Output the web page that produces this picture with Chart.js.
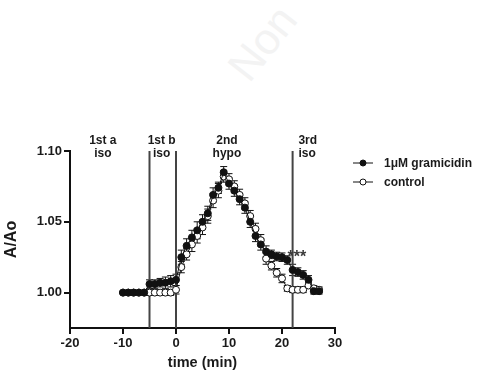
<!DOCTYPE html>
<html lang="en">
<head>
    <meta charset="UTF-8">
    <title>A/Ao vs time</title>
    <style>
        body {
            margin: 0;
            padding: 0;
            background-color: #ffffff;
            font-family: Arial, "Liberation Sans", sans-serif;
        }
        .wrap {
            position: relative;
            width: 479px;
            height: 388px;
        }
        .watermark {
            position: absolute;
            left: 222px;
            top: 18px;
            font-size: 44px;
            color: #f3f3f3;
            transform: rotate(-52deg);
            pointer-events: none;
        }
        canvas {
            position: absolute;
            left: 0;
            top: 0;
        }
    </style>
</head>
<body>
    <div class="wrap">
        <div class="watermark">Non</div>
        <canvas id="chart" width="479" height="388"></canvas>
    </div>

    <script src="https://cdn.jsdelivr.net/npm/chart.js"></script>
    <script>
        // time points (min)
        const times = [-10, -9, -8, -7, -6, -5, -4, -3, -2, -1, 0, 1, 2, 3, 4, 5, 6, 7, 8, 9,
                       10, 11, 12, 13, 14, 15, 16, 17, 18, 19, 20, 21, 22, 23, 24, 25, 26, 27];

        // 1uM gramicidin
        const gramicidin = [1.000, 1.000, 1.000, 1.000, 1.000, 1.006, 1.006, 1.007, 1.007, 1.008,
                            1.009, 1.025, 1.033, 1.039, 1.044, 1.050, 1.056, 1.069, 1.074, 1.085,
                            1.077, 1.072, 1.066, 1.060, 1.050, 1.040, 1.034, 1.029, 1.027, 1.0255,
                            1.025, 1.023, 1.016, 1.0145, 1.0125, 1.009, 1.001, 1.001];
        const gramicidinErr = [0.0005, 0.0005, 0.0005, 0.0005, 0.0005, 0.003, 0.003, 0.003, 0.004, 0.004,
                               0.004, 0.005, 0.005, 0.005, 0.006, 0.005, 0.005, 0.005, 0.004, 0.004,
                               0.004, 0.004, 0.004, 0.004, 0.004, 0.004, 0.004, 0.004, 0.003, 0.003,
                               0.003, 0.003, 0.004, 0.003, 0.003, 0.003, 0.002, 0.002];

        // control
        const control = [1.000, 1.000, 1.000, 1.000, 1.000, 1.000, 1.000, 1.000, 1.000, 1.000,
                         1.002, 1.018, 1.027, 1.034, 1.040, 1.046, 1.054, 1.065, 1.072, 1.082,
                         1.080, 1.075, 1.069, 1.063, 1.054, 1.045, 1.037, 1.024, 1.019, 1.014,
                         1.010, 1.003, 1.002, 1.002, 1.002, 1.005, 1.003, 1.002];
        const controlErr = [0.0005, 0.0005, 0.0005, 0.0005, 0.0005, 0.002, 0.002, 0.002, 0.002, 0.002,
                            0.003, 0.004, 0.004, 0.005, 0.005, 0.005, 0.005, 0.005, 0.005, 0.004,
                            0.004, 0.004, 0.004, 0.004, 0.004, 0.004, 0.004, 0.004, 0.003, 0.003,
                            0.003, 0.002, 0.002, 0.002, 0.002, 0.002, 0.002, 0.002];

        // axis ticks
        const xTicks = [-20, -10, 0, 10, 20, 30];
        const yTicks = [1.00, 1.05, 1.10];

        // solution change lines and their labels
        const changeTimes = [-5, 0, 22];
        const phaseLabels = [
            { x: -13.8, lines: ['1st a', 'iso'], align: 'center' },
            { x: -2.7, lines: ['1st b', 'iso'], align: 'center' },
            { x: 9.6, lines: ['2nd', 'hypo'], align: 'center' },
            { x: 23.1, lines: ['3rd', 'iso'], align: 'left' }
        ];
        const starsAt = { x: 22.8, y: 1.027, text: '***' };

        const seriesNames = ['1\u03bcM gramicidin', 'control'];

        const toPoints = (ys) => times.map((t, i) => ({ x: t, y: ys[i] }));

        const errorBars = {
            id: 'errorBars',
            beforeDatasetsDraw(chart) {
                const { ctx, scales: { x, y } } = chart;
                const errs = [gramicidinErr, controlErr];
                ctx.save();
                ctx.strokeStyle = '#111';
                ctx.lineWidth = 1;
                chart.data.datasets.forEach((ds, di) => {
                    ds.data.forEach((p, i) => {
                        const px = x.getPixelForValue(p.x);
                        const top = y.getPixelForValue(p.y + errs[di][i]);
                        const bot = y.getPixelForValue(p.y - errs[di][i]);
                        ctx.beginPath();
                        ctx.moveTo(px, top);
                        ctx.lineTo(px, bot);
                        ctx.moveTo(px - 3.5, top);
                        ctx.lineTo(px + 3.5, top);
                        ctx.moveTo(px - 3.5, bot);
                        ctx.lineTo(px + 3.5, bot);
                        ctx.stroke();
                    });
                });
                ctx.restore();
            }
        };

        const annotations = {
            id: 'annotations',
            beforeDatasetsDraw(chart) {
                const { ctx, scales: { x, y } } = chart;
                ctx.save();
                // vertical lines where the solution changed
                ctx.strokeStyle = '#444';
                ctx.lineWidth = 2;
                changeTimes.forEach(t => {
                    const px = x.getPixelForValue(t);
                    ctx.beginPath();
                    ctx.moveTo(px, y.getPixelForValue(y.max));
                    ctx.lineTo(px, y.getPixelForValue(y.min));
                    ctx.stroke();
                });
                ctx.restore();
            },
            afterDraw(chart) {
                const { ctx, scales: { x, y } } = chart;
                ctx.save();
                ctx.fillStyle = '#1a1a1a';
                ctx.font = 'bold 12px Arial';
                ctx.textBaseline = 'middle';
                const top = chart.chartArea.top;
                phaseLabels.forEach(lbl => {
                    ctx.textAlign = lbl.align;
                    lbl.lines.forEach((s, i) => {
                        ctx.fillText(s, x.getPixelForValue(lbl.x), top - 10 + i * 13);
                    });
                });
                // significance stars
                ctx.fillStyle = '#3a3a3a';
                ctx.font = 'bold 16px Arial';
                ctx.textAlign = 'center';
                ctx.fillText(starsAt.text, x.getPixelForValue(starsAt.x), y.getPixelForValue(starsAt.y) + 3);

                // legend
                const lx = 353, rows = [163, 182];
                rows.forEach((ry, i) => {
                    ctx.strokeStyle = '#111';
                    ctx.lineWidth = 1;
                    ctx.beginPath();
                    ctx.moveTo(lx, ry);
                    ctx.lineTo(lx + 20, ry);
                    ctx.stroke();
                    ctx.beginPath();
                    ctx.arc(lx + 10, ry, 3, 0, Math.PI * 2);
                    ctx.fillStyle = i === 0 ? '#111' : '#fff';
                    ctx.fill();
                    ctx.stroke();
                    ctx.fillStyle = '#1a1a1a';
                    ctx.font = 'bold 12px Arial';
                    ctx.textAlign = 'left';
                    ctx.fillText(seriesNames[i], 384, ry + 1);
                });
                ctx.restore();
            }
        };

        const ctx = document.getElementById('chart').getContext('2d');
        const chart = new Chart(ctx, {
            type: 'scatter',
            data: {
                datasets: [{
                    label: seriesNames[0],
                    data: toPoints(gramicidin),
                    showLine: true,
                    borderColor: '#111',
                    borderWidth: 1,
                    backgroundColor: '#111',
                    pointRadius: 3.5,
                    pointBorderWidth: 1
                }, {
                    label: seriesNames[1],
                    data: toPoints(control),
                    showLine: true,
                    borderColor: '#111',
                    borderWidth: 1,
                    backgroundColor: '#ffffff',
                    pointBackgroundColor: '#ffffff',
                    pointRadius: 3.5,
                    pointBorderWidth: 1
                }]
            },
            options: {
                responsive: false,
                animation: false,
                clip: false,
                layout: {
                    padding: { top: 151, right: 144, left: 0, bottom: 0 }
                },
                plugins: {
                    legend: { display: false },
                    tooltip: { enabled: false }
                },
                scales: {
                    x: {
                        type: 'linear',
                        min: -20,
                        max: 30,
                        afterFit: (axis) => { axis.height = 60; },
                        afterBuildTicks: (axis) => { axis.ticks = xTicks.map(v => ({ value: v })); },
                        border: { display: true, color: '#111', width: 2 },
                        grid: { drawOnChartArea: false, drawTicks: true, tickLength: 6, color: '#111', lineWidth: 2 },
                        ticks: {
                            color: '#1a1a1a',
                            padding: 2,
                            maxRotation: 0,
                            font: { family: 'Arial', size: 13, weight: 'bold' }
                        },
                        title: {
                            display: true,
                            text: 'time (min)',
                            color: '#1a1a1a',
                            font: { family: 'Arial', size: 14.5, weight: 'bold' },
                            padding: { top: 0, bottom: 16 }
                        }
                    },
                    y: {
                        type: 'linear',
                        min: 0.975,
                        max: 1.10,
                        afterFit: (axis) => { axis.width = 70; },
                        afterBuildTicks: (axis) => { axis.ticks = yTicks.map(v => ({ value: v })); },
                        border: { display: true, color: '#111', width: 2 },
                        grid: { drawOnChartArea: false, drawTicks: true, tickLength: 6, color: '#111', lineWidth: 2 },
                        ticks: {
                            color: '#1a1a1a',
                            padding: 2,
                            callback: (v) => Number(v).toFixed(2),
                            font: { family: 'Arial', size: 13, weight: 'bold' }
                        },
                        title: {
                            display: true,
                            text: 'A/Ao',
                            color: '#1a1a1a',
                            font: { family: 'Arial', size: 16, weight: 'bold' },
                            padding: { top: 2, bottom: 0 }
                        }
                    }
                }
            },
            plugins: [errorBars, annotations]
        });
    </script>
</body>
</html>
